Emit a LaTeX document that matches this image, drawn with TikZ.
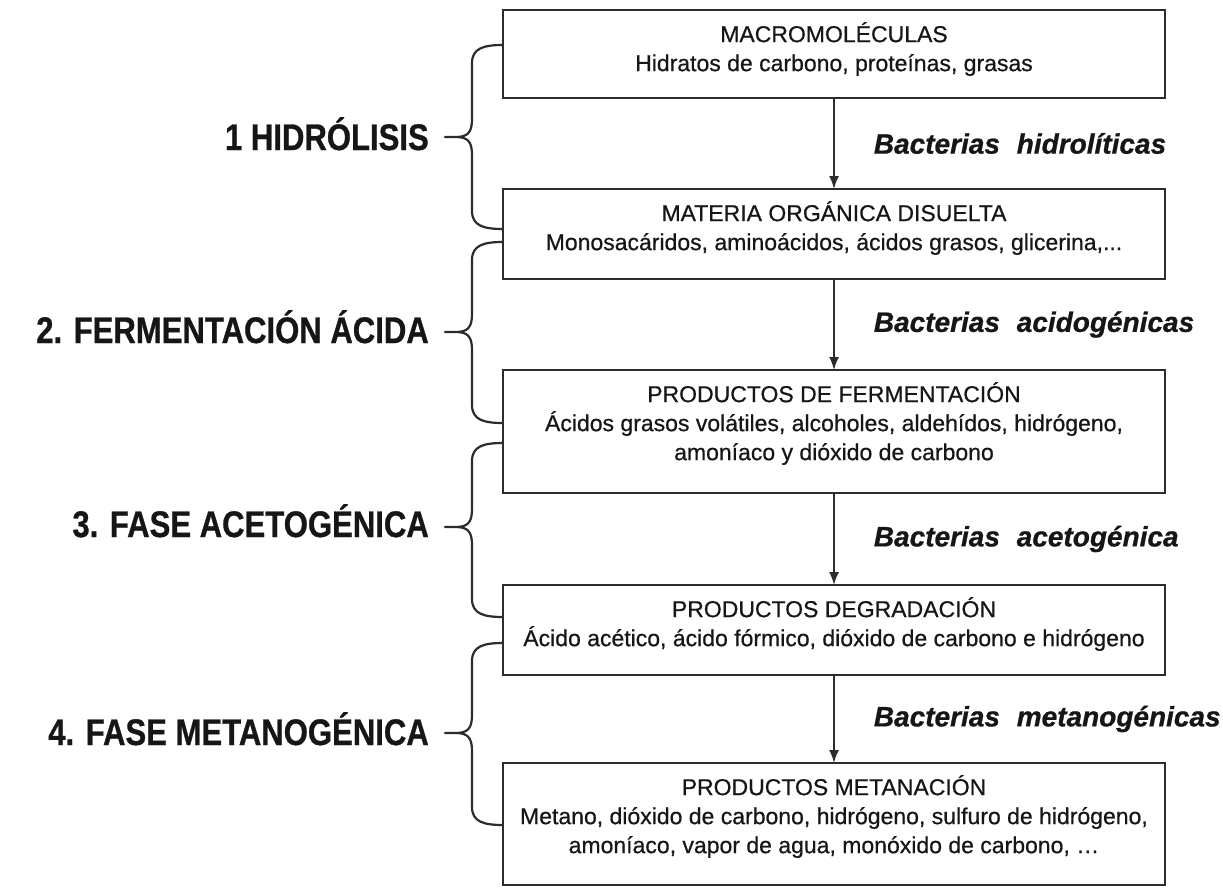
\documentclass[tikz,border=0pt]{standalone}
\usepackage{fontspec}
\usepackage{graphicx}
\setmainfont{Liberation Sans}
\newfontfamily\boxfont[FakeBold=0.6]{Liberation Sans}
\newfontfamily\labelfont[FakeBold=0.8]{Liberation Sans}
\usetikzlibrary{arrows.meta,calc}

\definecolor{ink}{HTML}{161616}
\definecolor{frame}{HTML}{2C2C2C}

% draws a left curly brace: top end, tip and bottom end (y values)
\newcommand\phasebrace[3]{%
  \draw[bracestroke]
    (503,#1) .. controls (484,#1) and (472,#1+3) .. (472,#1+18)
    -- (472,#2-18) .. controls (472,#2-5) and (468,#2) .. (456,#2) -- (445,#2)
    (456,#2) .. controls (468,#2) and (472,#2+5) .. (472,#2+18)
    -- (472,#3-18) .. controls (472,#3-3) and (484,#3) .. (503,#3);}

\begin{document}
\begin{tikzpicture}[x=1pt,y=-1pt,
  stagebox/.style={draw=frame, line width=2.6pt, fill=white, rectangle,
    minimum width=662pt, outer sep=0pt, inner sep=0pt},
  boxtext/.style={anchor=north, align=center, inner sep=0pt, text=ink,
    font=\boxfont\fontsize{23}{29}\selectfont},
  flow/.style={draw=frame, line width=1.8pt, -{Latex[length=13pt,width=10pt]}},
  bacteria/.style={anchor=west, inner sep=0pt, text=ink,
    font=\labelfont\fontsize{28}{30}\selectfont\bfseries\itshape},
  phase/.style={anchor=base east, inner sep=0pt, text=ink,
    font=\labelfont\fontsize{37}{40}\selectfont\bfseries},
  bracestroke/.style={draw=frame, line width=2.2pt, line cap=round, line join=round}]

\useasboundingbox (0,0) rectangle (1223,888);
\fill[white] (0,0) rectangle (1223,888);

% stage boxes
\node[stagebox, minimum height=88pt]  (b1) at (834,54)    {};
\node[stagebox, minimum height=90pt]  (b2) at (834,234)   {};
\node[stagebox, minimum height=123pt] (b3) at (834,431.5) {};
\node[stagebox, minimum height=90pt]  (b4) at (834,630)   {};
\node[stagebox, minimum height=122pt] (b5) at (834,824)   {};

% box contents
\node[boxtext] (t1) at ([yshift=-12pt]b1.north)
  {MACROMOLÉCULAS\\Hidratos de carbono, proteínas, grasas};
\node[boxtext] (t2) at ([yshift=-12pt]b2.north)
  {MATERIA ORGÁNICA DISUELTA\\Monosacáridos, aminoácidos, ácidos grasos, glicerina,...};
\node[boxtext] (t3) at ([yshift=-12pt]b3.north)
  {PRODUCTOS DE FERMENTACIÓN\\Ácidos grasos volátiles, alcoholes, aldehídos, hidrógeno,\\amoníaco y dióxido de carbono};
\node[boxtext] (t4) at ([yshift=-12pt]b4.north)
  {PRODUCTOS DEGRADACIÓN\\Ácido acético, ácido fórmico, dióxido de carbono e hidrógeno};
\node[boxtext] (t5) at ([yshift=-12pt]b5.north)
  {PRODUCTOS METANACIÓN\\Metano, dióxido de carbono, hidrógeno, sulfuro de hidrógeno,\\amoníaco, vapor de agua, monóxido de carbono, \dots};

% flow arrows with the acting bacteria
\draw[flow] (b1.south) -- (b2.north)
  node[bacteria, pos=0.5, xshift=39pt] (k1) {Bacterias\hspace{0.6em}hidrolíticas};
\draw[flow] (b2.south) -- (b3.north)
  node[bacteria, pos=0.5, xshift=39pt] (k2) {Bacterias\hspace{0.6em}acidogénicas};
\draw[flow] (b3.south) -- (b4.north)
  node[bacteria, pos=0.5, xshift=39pt] (k3) {Bacterias\hspace{0.6em}acetogénica};
\draw[flow] (b4.south) -- (b5.north)
  node[bacteria, pos=0.5, xshift=39pt] (k4) {Bacterias\hspace{0.6em}metanogénicas};

% phase braces
\phasebrace{45}{137}{229}
\phasebrace{242}{332}{423}
\phasebrace{443}{527}{617}
\phasebrace{643}{733}{825}

% phase names
\node[phase] (p1) at (429,150) {\scalebox{0.84}[1]{1 HIDRÓLISIS}};
\node[phase] (p2) at (429,343) {\scalebox{0.84}[1]{2. FERMENTACIÓN ÁCIDA}};
\node[phase] (p3) at (429,537) {\scalebox{0.84}[1]{3. FASE ACETOGÉNICA}};
\node[phase] (p4) at (429,745) {\scalebox{0.84}[1]{4. FASE METANOGÉNICA}};

\end{tikzpicture}
\end{document}
